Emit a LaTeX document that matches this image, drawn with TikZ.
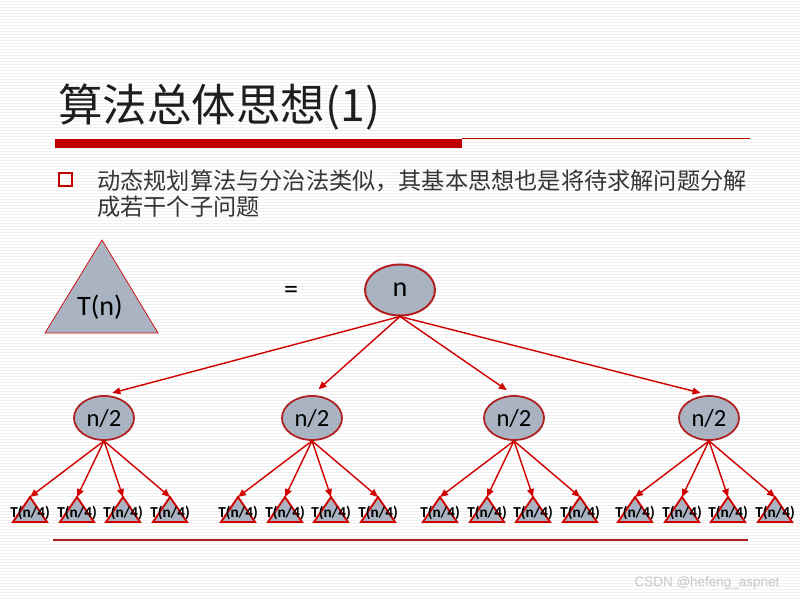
\documentclass[tikz,border=0pt]{standalone}
\usepackage{fontspec}
\setmainfont{Carlito}
\newfontfamily\cjk{Noto Sans CJK SC}
\newfontfamily\markfont{Liberation Sans}
\usetikzlibrary{positioning, shapes.geometric, arrows.meta, calc}
\definecolor{barred}{HTML}{C00000}
\definecolor{arrowred}{HTML}{D00000}
\definecolor{rim}{HTML}{B02020}
\definecolor{slate}{HTML}{A9B3C2}
\definecolor{stripe}{HTML}{F0F0F0}
\definecolor{titleink}{HTML}{1E1E1E}

\begin{document}
\begin{tikzpicture}[x=0.03cm, y=-0.03cm,
  font=\fontsize{24}{28}\selectfont,
  rootnode/.style={ellipse, draw=rim, line width=1.7pt, fill=slate, minimum width=2.1cm, minimum height=1.53cm, inner sep=0pt},
  halfnode/.style={ellipse, draw=rim, line width=1.5pt, fill=slate, minimum width=1.8cm, minimum height=1.32cm, inner sep=0pt, font=\fontsize{21}{24}\selectfont},
  leaf/.style={fill=slate, draw=arrowred, line width=1.6pt, line join=miter},
  leaflabel/.style={font=\fontsize{13}{15}\selectfont\bfseries, inner sep=0pt},
  body/.style={anchor=base west, inner sep=0pt, font=\cjk\fontsize{19.8}{23}\selectfont, text=titleink!90},
  arr/.style={-{Triangle[length=2.4mm, width=2mm]}, line width=1.2pt, arrowred}
]
  % page with faint stripes
  \useasboundingbox (0,0) rectangle (800,600);
  \fill[white] (0,0) rectangle (800,600);
  \foreach \y in {1.5,4.5,...,600} \draw[stripe, line width=0.9pt] (0,\y) -- (800,\y);

  % title and rule
  \node[anchor=base west, inner sep=0pt, font=\cjk\fontsize{38}{44}\selectfont, text=titleink] (title) at (58,122) {算法总体思想(1)};
  \fill[barred] (55,139) rectangle (462,148);
  \draw[barred, line width=0.8pt] (462,138.5) -- (750,138.5);

  % bullet text
  \draw[barred, line width=1.6pt] (59,173) rectangle (72,186);
  \node[body] (line1) at (97,190) {动态规划算法与分治法类似，其基本思想也是将待求解问题分解};
  \node[body] (line2) at (97,216) {成若干个子问题};

  % T(n) = tree
  \draw[fill=slate, draw=arrowred, line width=0.6pt] (102,240) -- (158,333) -- (45,333) -- cycle;
  \node (tn) at (100,307) {T(n)};
  \node (eq) at (291,292) {=};
  \node[rootnode] (root) at (400,290) {n};

  % second level
  \foreach \i/\c in {1/104, 2/312, 3/514, 4/709} {
    \node[halfnode] (half\i) at (\c,418) {n/2};
    \draw[arr, shorten >=2.6mm] (root.south) -- (half\i.north);
  }

  % third level
  \foreach \i/\c in {1/101, 2/309, 3/511, 4/706} {
    \foreach \k/\d in {1/-71, 2/-24, 3/22, 4/69} {
      \pgfmathsetmacro\qx{\c+\d}
      \draw[leaf] (\qx,497) -- (\qx+17,522) -- (\qx-17,522) -- cycle;
      \coordinate (tip\i\k) at (\qx,497);
      \node[leaflabel] (quarter\i\k) at (\qx,513) {T(n/4)};
      \draw[arr] (half\i.south) -- (tip\i\k);
    }
  }

  % bottom rule
  \draw[rim, line width=1.2pt] (53,540) -- (748,540);
  \node[font=\markfont\fontsize{11.5}{13}\selectfont, text=black!22] (mark) at (707,583) {CSDN @hefeng\_aspnet};
\end{tikzpicture}
\end{document}
